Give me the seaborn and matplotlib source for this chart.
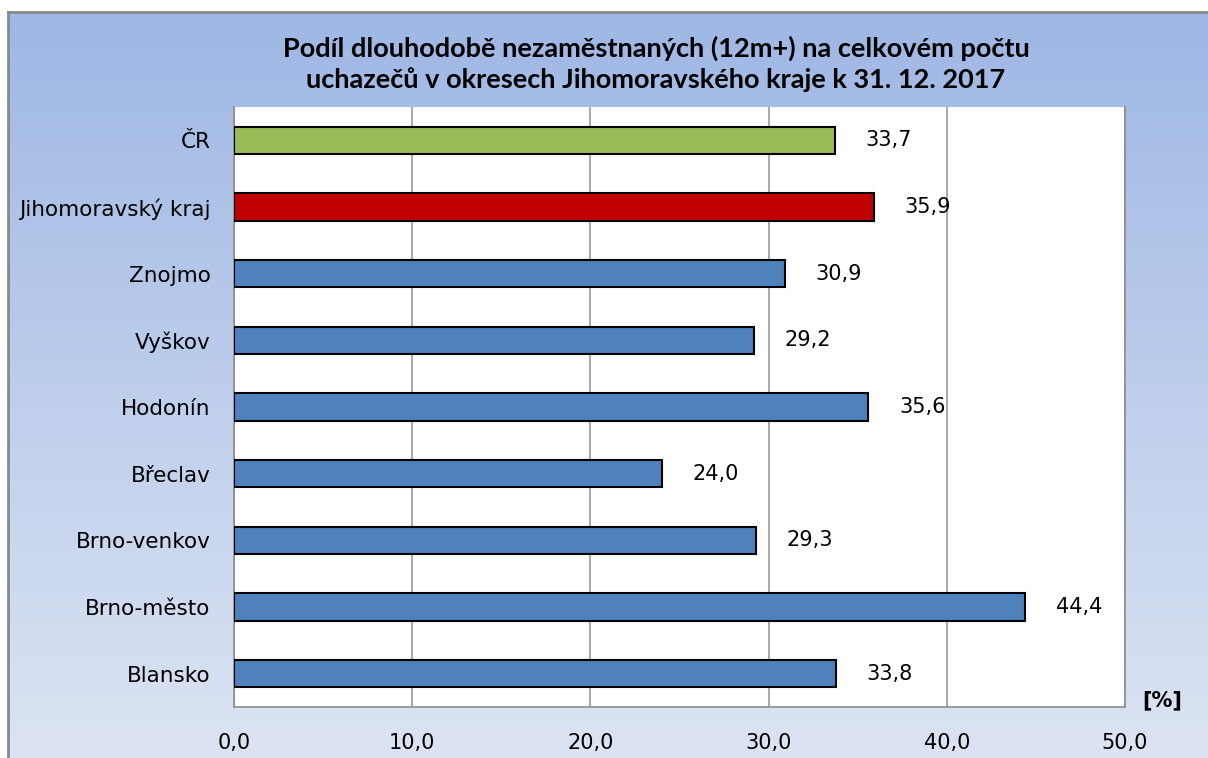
import numpy as np
import pandas as pd
import matplotlib
matplotlib.use("Agg")
import matplotlib.pyplot as plt
import seaborn as sns

categories = ["ČR", "Jihomoravský kraj", "Znojmo", "Vyškov", "Hodonín",
              "Břeclav", "Brno-venkov", "Brno-město", "Blansko"]
values = [33.7, 35.9, 30.9, 29.2, 35.6, 24.0, 29.3, 44.4, 33.8]
bar_colors = ["#9BBB59", "#C00000", "#4F81BD", "#4F81BD", "#4F81BD",
              "#4F81BD", "#4F81BD", "#4F81BD", "#4F81BD"]
x_ticks = [0, 10, 20, 30, 40, 50]
title = ("Podíl dlouhodobě nezaměstnaných (12m+) na celkovém počtu\n"
         "uchazečů v okresech Jihomoravského kraje k 31. 12. 2017")

sns.set_style("white")
plt.rcParams['font.family'] = ['DejaVu Sans']
plt.rcParams['text.color'] = 'black'
plt.rcParams['xtick.color'] = 'black'
plt.rcParams['ytick.color'] = 'black'

W, H = 1208, 758
fig = plt.figure(figsize=(W / 100, H / 100), dpi=100)
fig.patch.set_facecolor("white")

# gradient background frame
fx0, fy_top = 8 / W, 1 - 12 / H
bg = fig.add_axes([fx0, 0, 1 - fx0, fy_top])
top_c = np.array([158, 183, 228]) / 255
bot_c = np.array([220, 228, 243]) / 255
t = np.linspace(0, 1, 256)[:, None]
grad = top_c[None, :] * (1 - t) + bot_c[None, :] * t
bg.imshow(grad[:, None, :], aspect="auto", extent=[0, 1, 0, 1], origin="upper")
bg.set_xticks([]); bg.set_yticks([])
for s in ["right", "bottom"]:
    bg.spines[s].set_visible(False)
for s in ["left", "top"]:
    bg.spines[s].set_color("#888888")
    bg.spines[s].set_linewidth(2)
bg.set_zorder(0)

left, right, top, bottom = 234 / W, 1125 / W, 1 - 107 / H, 1 - 707 / H
ax = fig.add_axes([left, bottom, right - left, top - bottom])
ax.set_zorder(1)
ax.set_facecolor("white")

df = pd.DataFrame({"cat": categories, "val": values})
sns.barplot(data=df, y="cat", x="val", hue="cat", palette=bar_colors,
            saturation=1, orient="h", width=0.41, edgecolor="black",
            linewidth=1.5, legend=False, ax=ax, zorder=3)

ax.set_xlim(0, 50)
ax.set_ylim(len(categories) - 0.5, -0.5)
ax.set_xticks(x_ticks)
ax.set_xticklabels([f"{v:.1f}".replace(".", ",") for v in x_ticks], fontsize=15)
ax.xaxis.grid(True, color="#999999", linewidth=1.2, zorder=0)
ax.set_axisbelow(True)
ax.set_xlabel(""); ax.set_ylabel("")
ax.set_yticks(range(len(categories)))
ax.set_yticklabels(categories, fontsize=15.5)
ax.set_yticks(np.arange(-0.5, len(categories), 1.0), minor=True)
ax.tick_params(axis="y", which="major", length=0, pad=17)
ax.tick_params(axis="y", which="minor", length=7, color="#8c8c8c", width=1.2)
ax.tick_params(axis="x", which="major", length=7, color="#8c8c8c", width=1.2, pad=12)
for s in ["left", "bottom", "right"]:
    ax.spines[s].set_visible(True)
    ax.spines[s].set_color("#8c8c8c")
    ax.spines[s].set_linewidth(1.2)
ax.spines["top"].set_visible(False)

for i, v in enumerate(values):
    ax.annotate(f"{v:.1f}".replace(".", ","), xy=(v, i), xytext=(22, 0),
                textcoords="offset points", ha="left", va="center", fontsize=15)

fig.text(1162 / W, 1 - 700 / H, "[%]", ha="center", va="center",
         fontsize=15, fontweight="bold")
fig.text(656 / W, 1 - 64 / H, title, ha="center", va="center",
         fontsize=19.5, fontweight="bold", linespacing=1.3,
         family=["Lato", "DejaVu Sans"])

fig.savefig("out.png", dpi=100)
